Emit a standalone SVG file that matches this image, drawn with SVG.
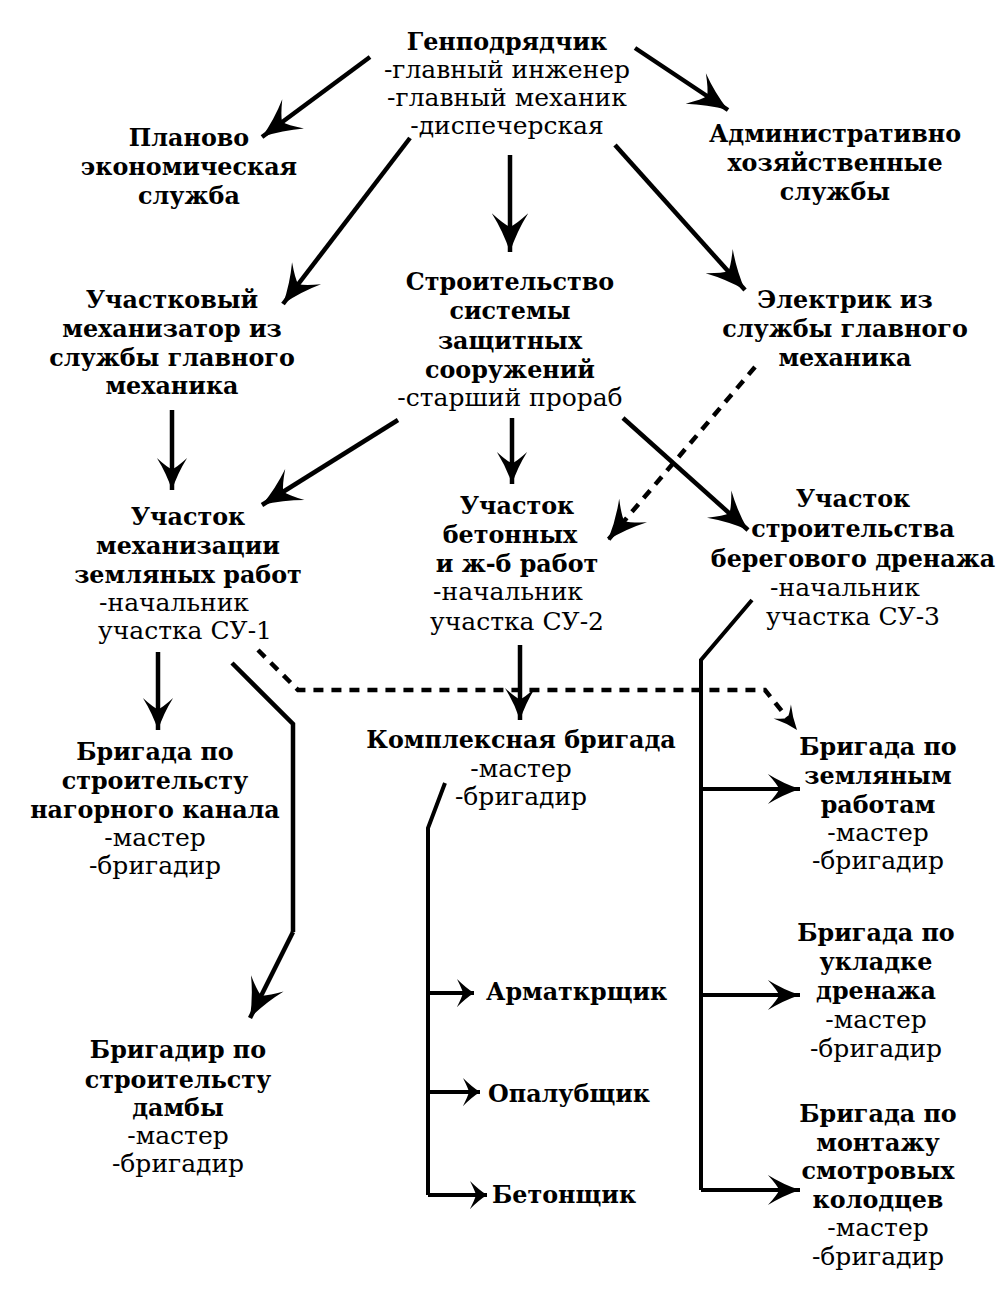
<svg xmlns="http://www.w3.org/2000/svg" width="1000" height="1300" viewBox="0 0 1000 1300">
<style>
text{font-family:"DejaVu Serif","Liberation Serif",serif;font-size:25px;text-anchor:middle;fill:#000}
.b{font-weight:bold;font-size:23.8px}
.l{text-anchor:start}
.c{fill:none;stroke:#000;stroke-width:4.5}
.d{stroke-dasharray:10 8;stroke-width:4.5}
.t{stroke-width:4}
</style>
<defs>
<marker id="ah" markerUnits="userSpaceOnUse" viewBox="-36 -18 40 36" refX="0" refY="0" markerWidth="46" markerHeight="41" orient="auto">
<path d="M0,0 Q-18,-6 -34,-16 Q-24,-5 -22,0 Q-24,5 -34,16 Q-18,6 0,0Z" fill="#000"/>
</marker>
<marker id="am" markerUnits="userSpaceOnUse" viewBox="-36 -18 40 36" refX="0" refY="0" markerWidth="38" markerHeight="34" orient="auto">
<path d="M0,0 Q-18,-6 -34,-16 Q-24,-5 -22,0 Q-24,5 -34,16 Q-18,6 0,0Z" fill="#000"/>
</marker>
<marker id="as" markerUnits="userSpaceOnUse" viewBox="-20 -16 22 32" refX="0" refY="0" markerWidth="22" markerHeight="32" orient="auto">
<path d="M0,0 Q-8,-5 -17,-14 Q-12,-4 -11,0 Q-12,4 -17,14 Q-8,5 0,0Z" fill="#000"/>
</marker>
<marker id="ad" markerUnits="userSpaceOnUse" viewBox="-36 -18 40 36" refX="0" refY="0" markerWidth="28" markerHeight="25" orient="auto">
<path d="M0,0 Q-18,-6 -34,-16 Q-24,-5 -22,0 Q-24,5 -34,16 Q-18,6 0,0Z" fill="#000"/>
</marker>
</defs>
<g id="connectors">
<line class="c" x1="370" y1="57" x2="262" y2="137" marker-end="url(#ah)"/>
<line class="c" x1="635" y1="48" x2="728" y2="110" marker-end="url(#ah)"/>
<line class="c" x1="410" y1="138" x2="283" y2="304" marker-end="url(#ah)"/>
<line class="c" x1="510" y1="155" x2="510" y2="252" marker-end="url(#ah)"/>
<line class="c" x1="615" y1="145" x2="745" y2="290" marker-end="url(#ah)"/>
<line class="c" x1="172" y1="410" x2="172" y2="490" marker-end="url(#am)"/>
<line class="c" x1="398" y1="420" x2="262" y2="505" marker-end="url(#ah)"/>
<line class="c" x1="512" y1="418" x2="512" y2="484" marker-end="url(#am)"/>
<line class="c" x1="623" y1="418" x2="748" y2="530" marker-end="url(#ah)"/>
<line class="c d" x1="755" y1="367" x2="608" y2="540" marker-end="url(#ah)"/>
<line class="c" x1="158" y1="652" x2="158" y2="730" marker-end="url(#am)"/>
<polyline class="c" points="232,663 293,724 293,932"/>
<line class="c" x1="293" y1="932" x2="250" y2="1018" marker-end="url(#ah)"/>
<polyline class="c d" points="258,650 298,690 765,690 797,730" marker-end="url(#ad)"/>
<line class="c" x1="520" y1="645" x2="520" y2="720" marker-end="url(#am)"/>
<polyline class="c t" points="445,783 428,828 428,1195"/>
<line class="c t" x1="428" y1="993" x2="474" y2="993" marker-end="url(#as)"/>
<line class="c t" x1="428" y1="1092" x2="480" y2="1092" marker-end="url(#as)"/>
<line class="c t" x1="428" y1="1195" x2="487" y2="1195" marker-end="url(#as)"/>
<polyline class="c t" points="752,600 701,660 701,1190"/>
<line class="c t" x1="701" y1="789" x2="800" y2="789" marker-end="url(#am)"/>
<line class="c t" x1="701" y1="995" x2="800" y2="995" marker-end="url(#am)"/>
<line class="c t" x1="701" y1="1190" x2="800" y2="1190" marker-end="url(#am)"/>
</g>
<g id="n1"><text x="507" y="50" class="b">Генподрядчик</text><text x="507" y="78">-главный инженер</text><text x="507" y="106">-главный механик</text><text x="507" y="134">-диспечерская</text></g>
<g id="n2"><text x="189" y="146" class="b">Планово</text><text x="189" y="175" class="b">экономическая</text><text x="189" y="204" class="b">служба</text></g>
<g id="n3"><text x="835" y="142" class="b">Административно</text><text x="835" y="171" class="b">хозяйственные</text><text x="835" y="200" class="b">службы</text></g>
<g id="n4"><text x="172" y="308" class="b">Участковый</text><text x="172" y="337" class="b">механизатор из</text><text x="172" y="366" class="b">службы главного</text><text x="172" y="394" class="b">механика</text></g>
<g id="n5"><text x="510" y="290" class="b">Строительство</text><text x="510" y="319" class="b">системы</text><text x="510" y="349" class="b">защитных</text><text x="510" y="378" class="b">сооружений</text><text x="510" y="406">-старший прораб</text></g>
<g id="n6"><text x="845" y="308" class="b">Электрик из</text><text x="845" y="337" class="b">службы главного</text><text x="845" y="366" class="b">механика</text></g>
<g id="n7"><text x="188" y="525" class="b">Участок</text><text x="188" y="554" class="b">механизации</text><text x="188" y="583" class="b">земляных работ</text><text x="174" y="611">-начальник</text><text x="185" y="639">участка СУ-1</text></g>
<g id="n8"><text x="517" y="514" class="b">Участок</text><text x="510" y="543" class="b">бетонных</text><text x="517" y="572" class="b">и ж-б работ</text><text x="508" y="600">-начальник</text><text x="517" y="630">участка СУ-2</text></g>
<g id="n9"><text x="853" y="507" class="b">Участок</text><text x="853" y="537" class="b">строительства</text><text x="853" y="567" class="b">берегового дренажа</text><text x="845" y="596">-начальник</text><text x="853" y="625">участка СУ-3</text></g>
<g id="n10"><text x="155" y="760" class="b">Бригада по</text><text x="155" y="789" class="b">строительсту</text><text x="155" y="818" class="b">нагорного канала</text><text x="155" y="846">-мастер</text><text x="155" y="874">-бригадир</text></g>
<g id="n11"><text x="521" y="748" class="b">Комплексная бригада</text><text x="521" y="777">-мастер</text><text x="521" y="805">-бригадир</text></g>
<g id="n12"><text x="878" y="755" class="b">Бригада по</text><text x="878" y="784" class="b">земляным</text><text x="878" y="813" class="b">работам</text><text x="878" y="841">-мастер</text><text x="878" y="869">-бригадир</text></g>
<g id="n13"><text x="178" y="1058" class="b">Бригадир по</text><text x="178" y="1088" class="b">строительсту</text><text x="178" y="1116" class="b">дамбы</text><text x="178" y="1144">-мастер</text><text x="178" y="1172">-бригадир</text></g>
<g id="n14"><text x="486" y="1000" class="b l">Арматкрщик</text></g>
<g id="n15"><text x="488" y="1102" class="b l">Опалубщик</text></g>
<g id="n16"><text x="492" y="1203" class="b l">Бетонщик</text></g>
<g id="n17"><text x="876" y="941" class="b">Бригада по</text><text x="876" y="970" class="b">укладке</text><text x="876" y="999" class="b">дренажа</text><text x="876" y="1028">-мастер</text><text x="876" y="1057">-бригадир</text></g>
<g id="n18"><text x="878" y="1122" class="b">Бригада по</text><text x="878" y="1151" class="b">монтажу</text><text x="878" y="1179" class="b">смотровых</text><text x="878" y="1208" class="b">колодцев</text><text x="878" y="1236">-мастер</text><text x="878" y="1265">-бригадир</text></g>
</svg>
